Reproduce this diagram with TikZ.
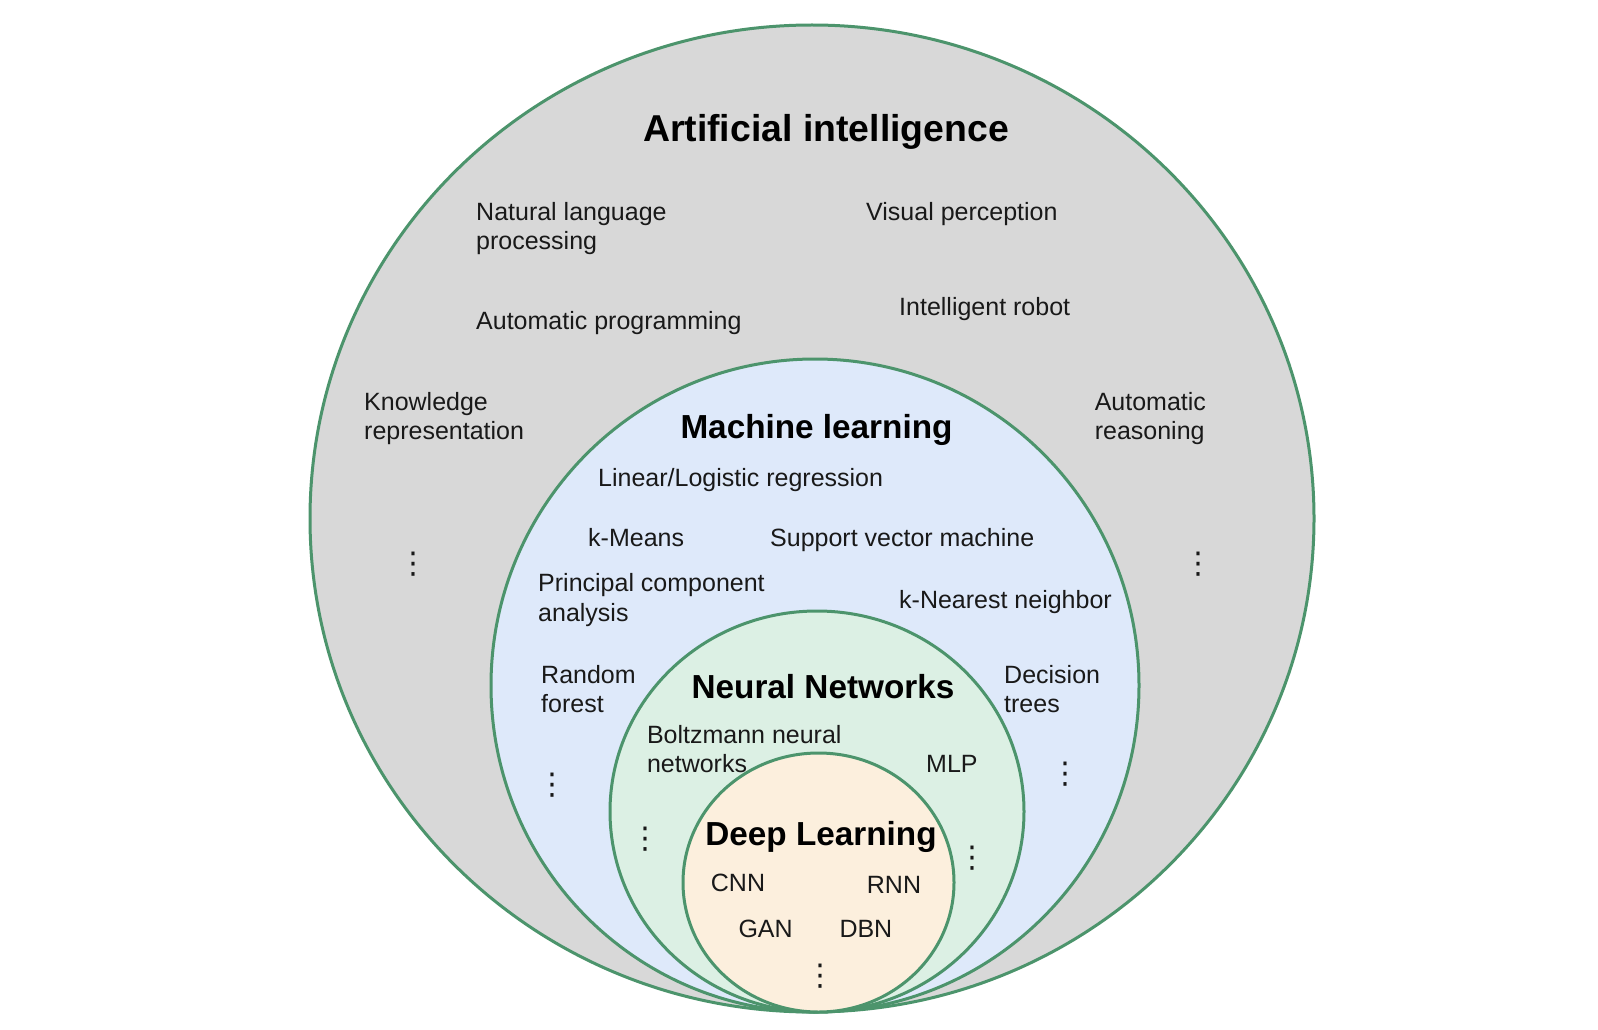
\documentclass[tikz,border=0pt]{standalone}
\usepackage{fontspec}
\setmainfont{Liberation Sans}
\newfontfamily\dejavu{DejaVu Sans}
\usetikzlibrary{shapes.geometric}
\definecolor{edgegreen}{RGB}{76,148,108}
\definecolor{aigray}{RGB}{216,216,216}
\definecolor{mlblue}{RGB}{222,233,250}
\definecolor{nngreen}{RGB}{220,240,228}
\definecolor{dlpeach}{RGB}{252,239,221}
\definecolor{txt}{RGB}{25,25,25}
\newcommand{\twoline}[2]{\begin{tabular}[t]{@{}l@{}}#1\\#2\end{tabular}}
\begin{document}
\begin{tikzpicture}[x=1pt,y=-1pt,
  region/.style={ellipse, draw=edgegreen, line width=3pt, inner sep=0pt, outer sep=0pt},
  item/.style={anchor=base west, inner sep=0pt, text=txt, font=\fontsize{25}{29.5}\selectfont},
  title/.style={anchor=base, inner sep=0pt, text=black, font=\fontsize{33.3}{38}\selectfont\bfseries},
  more/.style={inner sep=0pt, text=txt, font=\dejavu\fontsize{30}{30}\selectfont}]
\useasboundingbox (0,0) rectangle (1598,1030);
\fill[white] (0,0) rectangle (1598,1030);

\node[region, fill=aigray, minimum width=1004pt, minimum height=987pt] (ai) at (812,518.5) {};
\node[region, fill=mlblue, minimum width=648pt, minimum height=653pt] (ml) at (815,685.5) {};
\node[region, fill=nngreen, minimum width=414pt, minimum height=401pt] (nn) at (817,811.5) {};
\node[region, fill=dlpeach, minimum width=271pt, minimum height=259pt] (dl) at (818.5,882.5) {};

% Artificial intelligence
\node[title, font=\fontsize{37.4}{42}\selectfont\bfseries] (aititle) at (826,142) {Artificial intelligence};
\node[item] (nlp) at (476,220) {\twoline{Natural language}{processing}};
\node[item] (vis) at (866,220) {Visual perception};
\node[item] (autop) at (476,329) {Automatic programming};
\node[item] (robot) at (899,315) {Intelligent robot};
\node[item] (know) at (364,410) {\twoline{Knowledge}{representation}};
\node[item] (reason) at (1094.6,410) {\twoline{Automatic}{reasoning}};
\node[more] (aidotsl) at (413,564) {⋮};
\node[more] (aidotsr) at (1198,564) {⋮};

% Machine learning
\node[title] (mltitle) at (816.5,438) {Machine learning};
\node[item] (linreg) at (598,486.7) {Linear/Logistic regression};
\node[item] (kmeans) at (588,546.7) {k-Means};
\node[item] (svm) at (770,546.7) {Support vector machine};
\node[item] (pca) at (538,591.7) {\twoline{Principal component}{analysis}};
\node[item] (knn) at (899,608) {k-Nearest neighbor};
\node[item] (rf) at (541,683) {\twoline{Random}{forest}};
\node[item] (dt) at (1004,683) {\twoline{Decision}{trees}};
\node[more] (mldotsl) at (552,785) {⋮};
\node[more] (mldotsr) at (1065,774) {⋮};

% Neural networks
\node[title] (nntitle) at (823,698) {Neural Networks};
\node[item] (boltz) at (646.8,743) {\twoline{Boltzmann neural}{networks}};
\node[item] (mlp) at (926,772) {MLP};
\node[more] (nndotsl) at (645,839) {⋮};
\node[more] (nndotsr) at (972,858) {⋮};

% Deep learning
\node[title] (dltitle) at (821,845.5) {Deep Learning};
\node[item] (cnn) at (710.7,891.7) {CNN};
\node[item] (rnn) at (866.7,893.3) {RNN};
\node[item] (gan) at (738.3,937.7) {GAN};
\node[item] (dbn) at (839.3,937.7) {DBN};
\node[more] (dldots) at (820,976) {⋮};
\end{tikzpicture}
\end{document}
